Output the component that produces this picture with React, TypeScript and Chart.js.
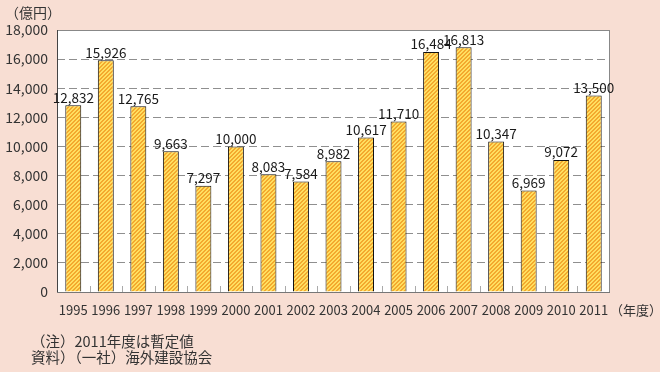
import React, { useEffect, useRef } from "react";
import { Chart, registerables } from "chart.js";

Chart.register(...registerables);

const categories = ["1995","1996","1997","1998","1999","2000","2001","2002","2003","2004","2005","2006","2007","2008","2009","2010","2011"];
const values = [12832, 15926, 12765, 9663, 7297, 10000, 8083, 7584, 8982, 10617, 11710, 16484, 16813, 10347, 6969, 9072, 13500];
const yTicks = [0, 2000, 4000, 6000, 8000, 10000, 12000, 14000, 16000, 18000];
const unitLabel = "（億円）";
const xUnitLabel = "（年度）";
const notes = ["（注）2011年度は暫定値", "資料）（一社）海外建設協会"];

const BG = "#f8ded3";
const FONT = "'Noto Sans CJK JP', 'Noto Sans', sans-serif";

function makePattern(): CanvasPattern | string {
  const c = document.createElement("canvas");
  c.width = 4;
  c.height = 4;
  const ctx = c.getContext("2d");
  if (!ctx) return "#f5c040";
  for (let x = 0; x < 4; x++) {
    for (let y = 0; y < 4; y++) {
      ctx.fillStyle = (x + y) % 4 < 2 ? "#ffdf60" : "#f3a92e";
      ctx.fillRect(x, y, 1, 1);
    }
  }
  return ctx.createPattern(c, "repeat") || "#f5c040";
}

const fmt = (v: number) => v.toLocaleString("en-US");

export default function App() {
  const ref = useRef<HTMLCanvasElement>(null);
  useEffect(() => {
    document.body.style.margin = "0";
    document.body.style.background = BG;
    const canvas = ref.current;
    if (!canvas) return;
    const pattern = makePattern();

    const decor = {
      id: "decor",
      beforeDraw(chart: any) {
        const { ctx, chartArea } = chart;
        ctx.save();
        ctx.fillStyle = BG;
        ctx.fillRect(0, 0, chart.width, chart.height);
        ctx.fillStyle = "#fff";
        ctx.fillRect(chartArea.left, chartArea.top, chartArea.right - chartArea.left, chartArea.bottom - chartArea.top);
        ctx.restore();
      },
      afterDatasetsDraw(chart: any) {
        const { ctx, chartArea } = chart;
        const xs = chart.scales.x;
        ctx.save();
        ctx.strokeStyle = "#888";
        ctx.lineWidth = 1;
        ctx.strokeRect(chartArea.left + 0.5, chartArea.top + 0.5, chartArea.right - chartArea.left - 1, chartArea.bottom - chartArea.top);
        ctx.strokeStyle = "#444";
        ctx.beginPath();
        ctx.moveTo(chartArea.left + 0.5, chartArea.top);
        ctx.lineTo(chartArea.left + 0.5, chartArea.bottom + 1);
        ctx.stroke();
        ctx.strokeStyle = "#777";
        ctx.beginPath();
        ctx.moveTo(chartArea.left, Math.round(chartArea.bottom) + 0.5);
        ctx.lineTo(chartArea.right, Math.round(chartArea.bottom) + 0.5);
        ctx.stroke();
        ctx.strokeStyle = "#aaa";
        for (let i = 1; i < categories.length; i++) {
          const x = Math.round((xs.getPixelForValue(i - 1) + xs.getPixelForValue(i)) / 2) + 0.5;
          ctx.beginPath();
          ctx.moveTo(x, chartArea.bottom);
          ctx.lineTo(x, chartArea.bottom - 6);
          ctx.stroke();
        }
        const meta = chart.getDatasetMeta(0);
        ctx.fillStyle = "#1a1a1a";
        ctx.font = `13.5px ${FONT}`;
        ctx.textAlign = "center";
        ctx.textBaseline = "bottom";
        meta.data.forEach((el: any, i: number) => {
          ctx.fillText(fmt(values[i]), el.x, el.y - 1);
        });
        ctx.textAlign = "left";
        ctx.textBaseline = "middle";
        ctx.fillStyle = "#333";
        ctx.font = `14px ${FONT}`;
        ctx.fillText(unitLabel, 5, 13);
        ctx.font = `13px ${FONT}`;
        ctx.fillText(xUnitLabel, chartArea.right, 310);
        ctx.font = `14.5px ${FONT}`;
        ctx.fillText(notes[0], 31, 341);
        ctx.fillText(notes[1], 31, 357);
        ctx.restore();
      },
    };

    const chart = new Chart(canvas, {
      type: "bar",
      data: {
        labels: categories,
        datasets: [
          {
            data: values,
            backgroundColor: pattern as any,
            borderColor: "#111",
            borderWidth: 1,
            barPercentage: 0.49,
            categoryPercentage: 1,
          },
        ],
      },
      options: {
        animation: false,
        responsive: false,
        maintainAspectRatio: false,
        layout: { padding: { left: 0, top: 30, right: 50, bottom: 0 } },
        plugins: { legend: { display: false }, tooltip: { enabled: false } },
        scales: {
          x: {
            grid: { display: false, drawTicks: false },
            border: { display: false },
            ticks: { color: "#333", font: { size: 13, family: FONT }, padding: 10, maxRotation: 0, autoSkip: false },
            afterFit(s: any) { s.height = 80; },
          },
          y: {
            min: 0,
            max: 18000,
            afterBuildTicks(s: any) { s.ticks = yTicks.map((v) => ({ value: v })); },
            grid: {
              color: (c: any) => (c.tick && (c.tick.value === 0 || c.tick.value === 18000) ? "rgba(0,0,0,0)" : "#8f8f8f"),
              drawTicks: false,
            },
            border: { display: false, dash: [8, 4] },
            ticks: { color: "#333", font: { size: 14, family: FONT }, padding: 9, callback: (v: any) => fmt(Number(v)) },
            afterFit(s: any) { s.width = 57; },
          },
        },
      },
      plugins: [decor],
    });
    return () => chart.destroy();
  }, []);
  return <canvas ref={ref} width={660} height={372} style={{ display: "block" }} />;
}
